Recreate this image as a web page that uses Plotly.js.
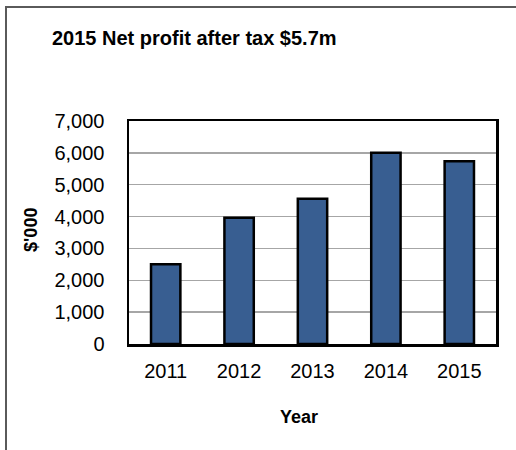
<!DOCTYPE html>
<html>
<head>
<meta charset="utf-8">
<script src="https://cdn.plot.ly/plotly-3.0.1.min.js"></script>
<style>
  html, body { margin: 0; padding: 0; background: #fff; }
  #wrap { position: relative; width: 516px; height: 450px; overflow: hidden; }
  #chart { position: absolute; left: 0; top: 0; width: 516px; height: 450px; }
  #frame { position: absolute; left: 5px; top: 6px; width: 520px; height: 460px;
           border-top: 2px solid #5a5a5a; border-left: 2px solid #5a5a5a; pointer-events: none; }
</style>
</head>
<body>
<div id="wrap">
  <div id="chart"></div>
  <div id="frame"></div>
</div>
<script>
const years = ['2011', '2012', '2013', '2014', '2015'];
const profit = [2500, 3960, 4560, 6000, 5740];
const yTicks = [0, 1000, 2000, 3000, 4000, 5000, 6000, 7000];
const yTickLabels = ['0', '1,000', '2,000', '3,000', '4,000', '5,000', '6,000', '7,000'];
const titleText = '2015 Net profit after tax $5.7m';
const xTitle = 'Year';
const yTitle = "$'000";

const font = 'Liberation Sans, Arial, sans-serif';

const trace = {
  type: 'bar',
  x: years,
  y: profit,
  marker: { color: '#385E91', line: { color: '#000', width: 2.5 } },
  hoverinfo: 'x+y'
};

const layout = {
  width: 516,
  height: 450,
  margin: { l: 129, r: 20, t: 121, b: 106, pad: 0 },
  paper_bgcolor: '#fff',
  plot_bgcolor: '#fff',
  bargap: 0.6,
  showlegend: false,
  font: { family: font, color: '#000', size: 20 },
  title: {
    text: '<b>' + titleText + '</b>',
    font: { family: font, size: 20, color: '#000' },
    x: 52 / 516, xref: 'container', xanchor: 'left',
    y: 1 - 38 / 450, yref: 'container', yanchor: 'middle'
  },
  xaxis: {
    type: 'category',
    showgrid: false,
    showline: true, linecolor: '#000', linewidth: 2.5, mirror: true,
    ticks: '', ticklabelstandoff: 7,
    tickfont: { family: font, size: 20, color: '#000' },
    zeroline: false
  },
  yaxis: {
    range: [0, 7000],
    tickvals: yTicks,
    ticktext: yTickLabels,
    showgrid: true, gridcolor: '#a6a6a6', gridwidth: 1.5,
    showline: true, linecolor: '#000', linewidth: 2.5, mirror: true,
    ticks: '', ticklabelstandoff: 18,
    tickfont: { family: font, size: 20, color: '#000' },
    zeroline: false
  },
  annotations: [
    {
      text: '<b>' + xTitle + '</b>', xref: 'paper', yref: 'paper',
      x: (299 - 129) / 366.7, y: -(417 - 344) / 223, xanchor: 'center', yanchor: 'middle',
      showarrow: false, font: { family: font, size: 18, color: '#000' }
    },
    {
      text: '<b>' + yTitle + '</b>', xref: 'paper', yref: 'paper',
      x: -(129 - 31) / 366.7, y: (344 - 230) / 223, xanchor: 'center', yanchor: 'middle',
      textangle: -90,
      showarrow: false, font: { family: font, size: 18, color: '#000' }
    }
  ]
};

Plotly.newPlot('chart', [trace], layout, { displayModeBar: false, staticPlot: true });
</script>
</body>
</html>
